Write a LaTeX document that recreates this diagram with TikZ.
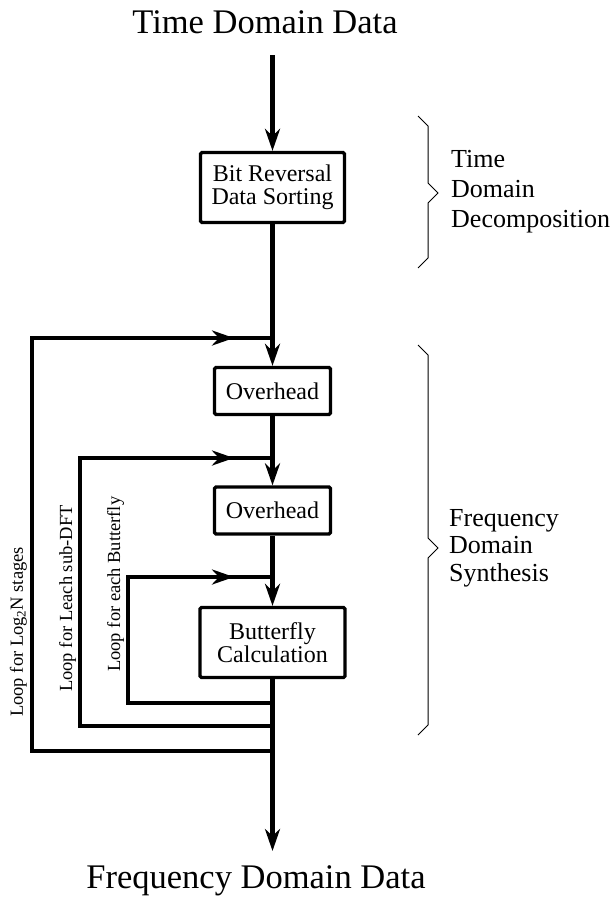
\documentclass[tikz,border=0pt]{standalone}
\usepackage{fontspec}
\setmainfont{Liberation Serif}
\usetikzlibrary{arrows.meta}
\begin{document}
\begin{tikzpicture}[x=1pt,y=-1pt,
  proc/.style={draw,line width=3.2pt,rounded corners=1.5pt,inner sep=0pt,align=center,font=\fontsize{24}{23.5}\selectfont},
  flow/.style={line width=4.2pt},
  loopln/.style={line width=3.8pt},
  tip/.style={-{Stealth[length=22pt,width=15pt,inset=7pt]}},
  brace/.style={line width=1pt},
  title/.style={font=\fontsize{34.5}{40}\selectfont,anchor=base,inner sep=0pt},
  sidet/.style={font=\fontsize{26}{30}\selectfont,align=left,anchor=north west,inner sep=0pt},
  sidef/.style={font=\fontsize{26}{27.5}\selectfont,align=left,anchor=north west,inner sep=0pt},
  looplabel/.style={font=\fontsize{18.5}{22}\selectfont,rotate=90,anchor=base west,inner sep=0pt}]
\useasboundingbox (0,0) rectangle (615,902);

% titles
\node[title] (tin) at (265,33) {Time Domain Data};
\node[title] (fout) at (256,888) {Frequency Domain Data};

% boxes
\node[proc, minimum width=144pt, minimum height=70pt] (bit) at (272.5,187.5) {Bit Reversal\\Data Sorting};
\node[proc, minimum width=116pt, minimum height=47pt] (ov1) at (272.5,391) {Overhead};
\node[proc, minimum width=116pt, minimum height=47pt] (ov2) at (272.5,510.5) {Overhead};
\node[proc, minimum width=145pt, minimum height=70pt] (bf) at (272.5,642.5) {Butterfly\\Calculation};

% coordinates
\coordinate (s) at (272.5,55);
\coordinate (e) at (272.5,851);
\coordinate (j1) at (272.5,338);
\coordinate (j2) at (272.5,458);
\coordinate (j3) at (272.5,577);
\coordinate (a1) at (234,338);
\coordinate (a2) at (234,458);
\coordinate (a3) at (234,577);
\coordinate (b1) at (272.5,751);
\coordinate (b2) at (272.5,726);
\coordinate (b3) at (272.5,703);
\coordinate (c1a) at (32,751);
\coordinate (c1b) at (32,338);
\coordinate (c2a) at (80,726);
\coordinate (c2b) at (80,458);
\coordinate (c3a) at (128,703);
\coordinate (c3b) at (128,577);

% main flow
\draw[flow,tip] (s) -- (bit.north);
\draw[flow] (bit.south) -- (j1);
\draw[flow,tip] (j1) -- (ov1.north);
\draw[flow] (ov1.south) -- (j2);
\draw[flow,tip] (j2) -- (ov2.north);
\draw[flow] (ov2.south) -- (j3);
\draw[flow,tip] (j3) -- (bf.north);
\draw[flow,tip] (bf.south) -- (e);

% loops
\draw[loopln] (b1) -- (c1a) -- (c1b) -- (j1);
\draw[loopln,tip] (c1b) -- (a1);
\draw[loopln] (b2) -- (c2a) -- (c2b) -- (j2);
\draw[loopln,tip] (c2b) -- (a2);
\draw[loopln] (b3) -- (c3a) -- (c3b) -- (j3);
\draw[loopln,tip] (c3b) -- (a3);

% loop labels
\node[looplabel] (l1) at (23,717) {Loop for Log\textsubscript{2}N stages};
\node[looplabel] (l2) at (72,692) {Loop for Leach sub-DFT};
\node[looplabel] (l3) at (120,672) {Loop for each Butterfly};

% braces
\draw[brace] (418,116) -- (428,126) -- (428,183) -- (438,193) -- (428,203) -- (428,258) -- (418,268);
\draw[brace] (418,345) -- (428,355) -- (428,538) -- (438,548) -- (428,558) -- (428,725) -- (418,735);

% side texts
\node[sidet] (tdd) at (451,150) {Time\\Domain\\Decomposition};
\node[sidef] (fds) at (449,509) {Frequency\\Domain\\Synthesis};
\end{tikzpicture}
\end{document}
